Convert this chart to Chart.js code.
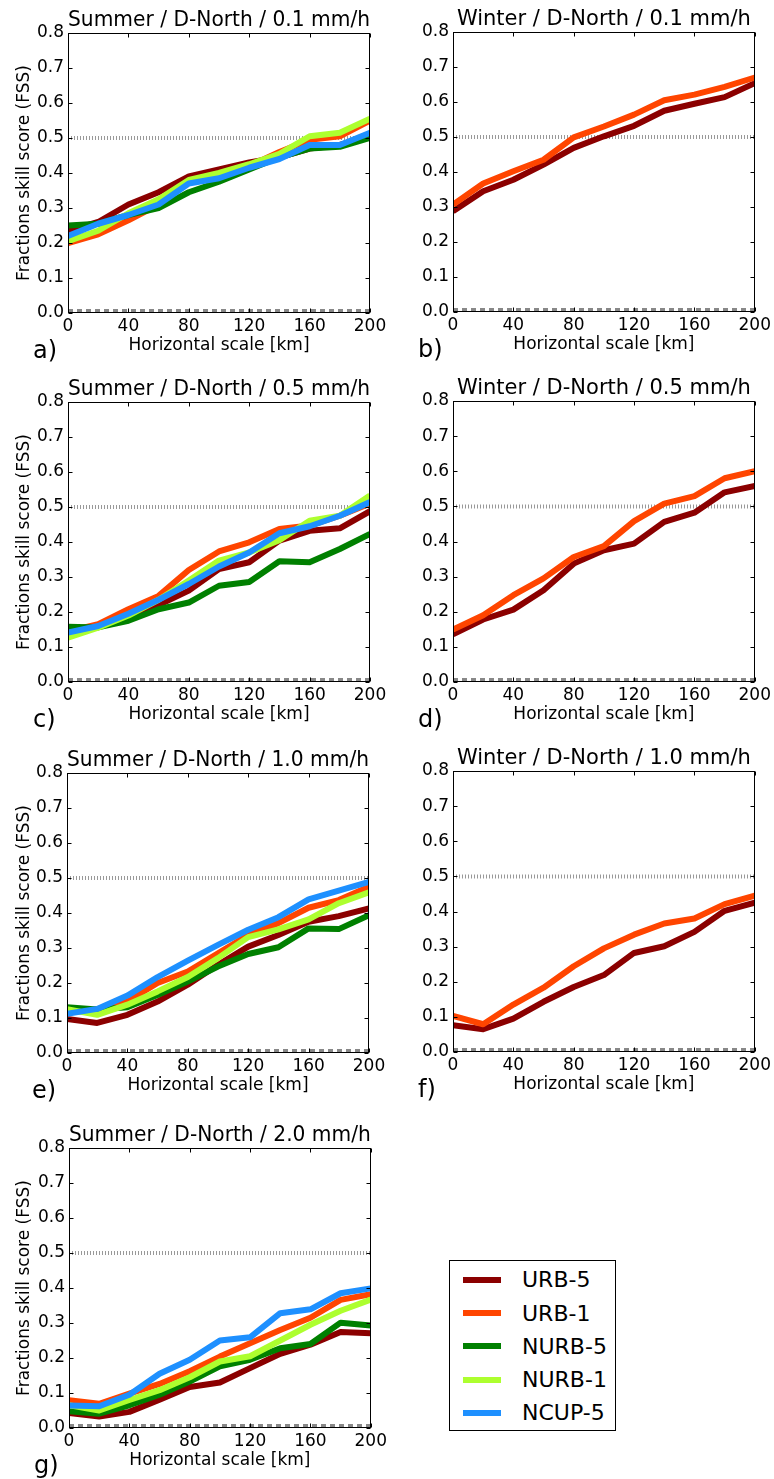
<!DOCTYPE html>
<html>
<head>
<meta charset="utf-8">
<script src="https://cdn.jsdelivr.net/npm/chart.js@4.4.1/dist/chart.umd.min.js"></script>
<style>
  html, body { margin: 0; padding: 0; background: #fff; }
  body { width: 774px; height: 1479px; position: relative; overflow: hidden;
         font-family: 'DejaVu Sans', sans-serif; }
  .panel { position: absolute; }
  #legend { position: absolute; left: 449px; top: 1260px; width: 167px; height: 171px;
            border: 1px solid #000; box-sizing: border-box; background: #fff; }
  .sw { position: absolute; height: 6px; width: 38px; }
  .lt { position: absolute; font-size: 22px; line-height: 22px; color: #000; white-space: nowrap; }
</style>
</head>
<body>
<div id="legend"></div>
<script>
// Horizontal neighbourhood scales (km) and axis ticks
const scalesKm = [0, 20, 40, 60, 80, 100, 120, 140, 160, 180, 200];
const xTickValues = [0, 40, 80, 120, 160, 200];
const yTickValues = [0, 0.1, 0.2, 0.3, 0.4, 0.5, 0.6, 0.7, 0.8];

// Experiments
const seriesNames = ['URB-5', 'URB-1', 'NURB-5', 'NURB-1', 'NCUP-5'];
const seriesColors = ['#8b0000', '#ff4500', '#008000', '#adff2f', '#1e90ff'];

// FSS per experiment (order as in seriesNames)
const summer01 = [
  [0.235, 0.26, 0.31, 0.345, 0.39, 0.41, 0.43, 0.445, 0.47, 0.48, 0.505],
  [0.20, 0.225, 0.265, 0.31, 0.375, 0.395, 0.42, 0.46, 0.495, 0.505, 0.55],
  [0.25, 0.255, 0.28, 0.30, 0.345, 0.375, 0.41, 0.445, 0.47, 0.475, 0.50],
  [0.205, 0.235, 0.285, 0.325, 0.38, 0.40, 0.425, 0.455, 0.505, 0.515, 0.555],
  [0.22, 0.255, 0.28, 0.31, 0.37, 0.385, 0.415, 0.44, 0.48, 0.48, 0.515]
];
const winter01 = [
  [0.288, 0.345, 0.378, 0.421, 0.469, 0.502, 0.532, 0.575, 0.595, 0.614, 0.654],
  [0.307, 0.367, 0.402, 0.435, 0.499, 0.53, 0.564, 0.605, 0.621, 0.643, 0.670]
];
const summer05 = [
  [0.145, 0.16, 0.19, 0.22, 0.261, 0.323, 0.342, 0.404, 0.432, 0.439, 0.488],
  [0.145, 0.165, 0.208, 0.246, 0.32, 0.373, 0.399, 0.437, 0.447, 0.475, 0.51],
  [0.158, 0.156, 0.175, 0.208, 0.227, 0.275, 0.286, 0.345, 0.342, 0.38, 0.423],
  [0.127, 0.155, 0.19, 0.235, 0.29, 0.347, 0.37, 0.405, 0.461, 0.475, 0.533],
  [0.141, 0.16, 0.195, 0.235, 0.28, 0.33, 0.37, 0.425, 0.445, 0.475, 0.514]
];
const winter05 = [
  [0.136, 0.178, 0.206, 0.261, 0.337, 0.375, 0.394, 0.456, 0.482, 0.54, 0.558],
  [0.149, 0.19, 0.247, 0.295, 0.356, 0.387, 0.458, 0.508, 0.529, 0.58, 0.60]
];
const summer10 = [
  [0.097, 0.086, 0.109, 0.147, 0.195, 0.252, 0.304, 0.337, 0.375, 0.391, 0.413],
  [0.115, 0.125, 0.147, 0.20, 0.233, 0.285, 0.337, 0.371, 0.415, 0.437, 0.475],
  [0.131, 0.124, 0.131, 0.166, 0.204, 0.247, 0.283, 0.302, 0.356, 0.354, 0.394],
  [0.125, 0.109, 0.138, 0.176, 0.217, 0.271, 0.331, 0.353, 0.382, 0.428, 0.459],
  [0.112, 0.126, 0.164, 0.217, 0.264, 0.309, 0.352, 0.388, 0.439, 0.464, 0.489]
];
const winter10 = [
  [0.076, 0.065, 0.095, 0.143, 0.185, 0.219, 0.282, 0.301, 0.342, 0.402, 0.425],
  [0.103, 0.079, 0.135, 0.183, 0.244, 0.295, 0.334, 0.366, 0.38, 0.421, 0.445]
];
const summer20 = [
  [0.043, 0.033, 0.046, 0.081, 0.117, 0.13, 0.171, 0.212, 0.238, 0.274, 0.271],
  [0.079, 0.069, 0.098, 0.126, 0.162, 0.204, 0.242, 0.28, 0.315, 0.366, 0.382],
  [0.048, 0.041, 0.065, 0.095, 0.133, 0.176, 0.195, 0.228, 0.24, 0.301, 0.293],
  [0.065, 0.05, 0.08, 0.108, 0.145, 0.19, 0.205, 0.25, 0.295, 0.335, 0.367],
  [0.064, 0.062, 0.095, 0.155, 0.195, 0.25, 0.259, 0.328, 0.339, 0.385, 0.399]
];

const panelTitles = [
  'Summer / D-North / 0.1 mm/h', 'Winter / D-North / 0.1 mm/h',
  'Summer / D-North / 0.5 mm/h', 'Winter / D-North / 0.5 mm/h',
  'Summer / D-North / 1.0 mm/h', 'Winter / D-North / 1.0 mm/h',
  'Summer / D-North / 2.0 mm/h'
];
const panelLetters = ['a)', 'b)', 'c)', 'd)', 'e)', 'f)', 'g)'];
const panelData = [summer01, winter01, summer05, winter05, summer10, winter10, summer20];

// Reference levels: useful-skill threshold and zero line
const usefulLevel = 0.5;
const zeroLevel = 0;

// Plot-area rectangles on the page (left, right, top, bottom)
const plotBoxes = [
  { l: 68,  r: 370, t: 33,   b: 313 },
  { l: 453, r: 755, t: 32,   b: 312 },
  { l: 68,  r: 370, t: 402,  b: 682 },
  { l: 453, r: 756, t: 401,  b: 682 },
  { l: 67,  r: 369, t: 773,  b: 1053 },
  { l: 453, r: 756, t: 771,  b: 1052 },
  { l: 69,  r: 371, t: 1148, b: 1428 }
];

const FONT = "'DejaVu Sans', sans-serif";
Chart.defaults.font.family = FONT;
Chart.defaults.font.size = 17;
Chart.defaults.color = '#000';

// Closed frame with inward tick marks on all four sides, plus the panel letter
const framePlugin = {
  id: 'frame',
  afterDatasetsDraw(chart, args, opts) {
    const { ctx, chartArea: a, scales: { x, y } } = chart;
    const L = Math.round(a.left) + 0.5, R = Math.round(a.right) - 0.5;
    const T = Math.round(a.top) + 0.5, B = Math.round(a.bottom) - 0.5;
    ctx.save();
    ctx.strokeStyle = '#000';
    ctx.lineWidth = 1;
    ctx.strokeRect(L, T, R - L, B - T);
    ctx.beginPath();
    const tl = 4;
    x.ticks.forEach(t => {
      const px = Math.round(x.getPixelForValue(t.value)) + 0.5;
      ctx.moveTo(px, B); ctx.lineTo(px, B - tl);
      ctx.moveTo(px, T); ctx.lineTo(px, T + tl);
    });
    y.ticks.forEach(t => {
      const py = Math.round(y.getPixelForValue(t.value)) + 0.5;
      ctx.moveTo(L, py); ctx.lineTo(L + tl, py);
      ctx.moveTo(R, py); ctx.lineTo(R - tl, py);
    });
    ctx.stroke();
    ctx.font = '24px ' + FONT;
    ctx.fillStyle = '#000';
    ctx.textAlign = 'left';
    ctx.textBaseline = 'alphabetic';
    ctx.fillText(opts.letter, a.left - 35, a.bottom + 45);
    ctx.restore();
  }
};

function makePanel(i) {
  const box = plotBoxes[i];
  const colLeft = box.l < 390 ? 0 : 390;
  const colRight = box.l < 390 ? 390 : 774;
  const canvasTop = box.t - 33;
  const padRight = colRight - box.r;
  const xAxisH = 43, padBottom = 16;
  const width = colRight - colLeft;
  const height = box.b - canvasTop + xAxisH + padBottom;
  const yAxisW = box.l - colLeft;
  const isLeft = colLeft === 0;

  const wrap = document.createElement('div');
  wrap.className = 'panel';
  wrap.style.left = colLeft + 'px';
  wrap.style.top = canvasTop + 'px';
  wrap.style.width = width + 'px';
  wrap.style.height = height + 'px';
  const cv = document.createElement('canvas');
  cv.width = width; cv.height = height;
  cv.style.width = width + 'px'; cv.style.height = height + 'px';
  wrap.appendChild(cv);
  document.body.appendChild(wrap);

  const datasets = panelData[i].map((vals, k) => ({
    label: seriesNames[k],
    data: scalesKm.map((km, j) => ({ x: km, y: vals[j] })),
    borderColor: seriesColors[k],
    backgroundColor: seriesColors[k],
    borderWidth: 6,
    pointRadius: 0,
    tension: 0,
    fill: false,
    borderJoinStyle: 'round',
    borderCapStyle: 'butt',
    clip: 0,
    order: 10 - k
  }));
  datasets.push({
    label: 'useful',
    data: [{ x: 0, y: usefulLevel }, { x: 200, y: usefulLevel }],
    borderColor: '#999999', borderWidth: 4, borderDash: [1, 2],
    pointRadius: 0, fill: false, clip: 0, order: 30
  });
  datasets.push({
    label: 'zero',
    data: [{ x: 0, y: zeroLevel }, { x: 200, y: zeroLevel }],
    borderColor: '#888888', borderWidth: 8, borderDash: [5, 4],
    pointRadius: 0, fill: false, clip: 0, order: 31
  });

  new Chart(cv, {
    type: 'line',
    data: { datasets },
    plugins: [framePlugin],
    options: {
      responsive: false,
      animation: false,
      devicePixelRatio: 1,
      layout: { padding: { top: 0, left: 0, right: padRight, bottom: padBottom } },
      plugins: {
        legend: { display: false },
        tooltip: { enabled: false },
        title: {
          display: true,
          text: panelTitles[i],
          fullSize: false,
          color: '#000',
          font: { family: FONT, size: 21, weight: 'normal' },
          padding: { top: 7.8, bottom: 0 }
        },
        frame: { letter: panelLetters[i] }
      },
      scales: {
        x: {
          type: 'linear', min: 0, max: 200,
          afterBuildTicks: s => { s.ticks = xTickValues.map(v => ({ value: v })); },
          afterFit: s => { s.height = xAxisH; },
          grid: { display: false, drawTicks: false },
          border: { display: false },
          ticks: { padding: 3, maxRotation: 0, autoSkip: false, color: '#000',
                   font: { size: 17 }, callback: v => String(v) },
          title: { display: true, text: 'Horizontal scale [km]', color: '#000',
                   font: { size: 17 }, padding: { top: 0, bottom: 0 } }
        },
        y: {
          type: 'linear', min: 0, max: 0.8,
          afterBuildTicks: s => { s.ticks = yTickValues.map(v => ({ value: v })); },
          afterFit: s => { s.width = yAxisW; },
          grid: { display: false, drawTicks: false },
          border: { display: false },
          ticks: { padding: 4, autoSkip: false, color: '#000',
                   font: { size: 17 }, callback: v => v.toFixed(1) },
          title: { display: isLeft, text: 'Fractions skill score (FSS)', color: '#000',
                   font: { size: 17 }, padding: { top: 14, bottom: 0 } }
        }
      }
    }
  });
}

panelData.forEach((_, i) => makePanel(i));

// Legend box
const legendEl = document.getElementById('legend');
seriesNames.forEach((name, i) => {
  const cy = 19 + 33.2 * i;
  const sw = document.createElement('div');
  sw.className = 'sw';
  sw.style.left = '13px';
  sw.style.top = (cy - 3) + 'px';
  sw.style.background = seriesColors[i];
  legendEl.appendChild(sw);
  const tx = document.createElement('div');
  tx.className = 'lt';
  tx.style.left = '72px';
  tx.style.top = (cy - 10.6) + 'px';
  tx.textContent = name;
  legendEl.appendChild(tx);
});
</script>
</body>
</html>
